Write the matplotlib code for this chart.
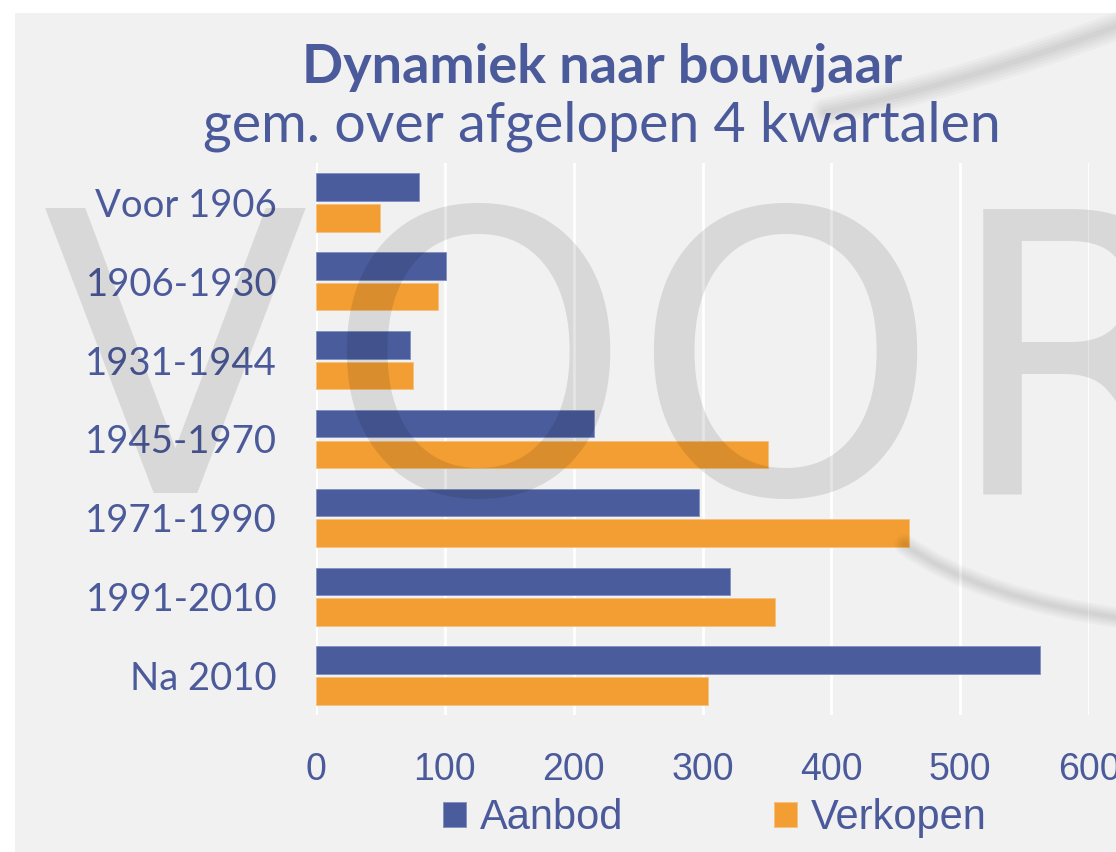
import matplotlib
matplotlib.use("Agg")
import matplotlib.pyplot as plt
import numpy as np
from matplotlib.patches import Rectangle, PathPatch
from matplotlib.path import Path

# data
categories = ["Voor 1906", "1906-1930", "1931-1944", "1945-1970",
              "1971-1990", "1991-2010", "Na 2010"]
aanbod = [80, 101, 73, 216, 297, 321, 562]
verkopen = [50, 95, 75, 351, 460, 356, 304]
x_ticks = [0, 100, 200, 300, 400, 500, 600]
title = "Dynamiek naar bouwjaar"
subtitle = "gem. over afgelopen 4 kwartalen"

BLUE = "#4a5c9c"
ORANGE = "#f29e33"
TEXT = "#4b5a9a"
PANEL = "#f1f1f1"

W, H = 1116, 852
fig = plt.figure(figsize=(W / 100, H / 100), dpi=100)
fig.patch.set_facecolor("white")

# grey panel behind everything
fig.add_artist(Rectangle((15 / W, 0), 1, 1 - 13 / H, transform=fig.transFigure,
                         facecolor=PANEL, edgecolor="none", zorder=-10))

ax = fig.add_axes([316 / W, 1 - 715 / H, 773 / W, (715 - 163) / H])
ax.set_facecolor("none")

y = np.arange(len(categories))
bar_h = 0.35
ax.barh(y - 0.195, aanbod, height=bar_h, color=BLUE, edgecolor="#8090c0",
        linewidth=0.6, zorder=3, label="Aanbod")
ax.barh(y + 0.195, verkopen, height=bar_h, color=ORANGE, edgecolor="#f6c080",
        linewidth=0.6, zorder=3, label="Verkopen")

ax.set_xlim(0, 600)
ax.set_ylim(len(categories) - 0.5, -0.5)
ax.set_xticks(x_ticks)
ax.set_yticks(y)
ax.set_yticklabels(categories)
ax.grid(axis="x", color="white", linewidth=2.0, zorder=1)
ax.axvline(0, color="white", linewidth=2.0, zorder=1)
ax.set_axisbelow(True)
for s in ax.spines.values():
    s.set_visible(False)
ax.tick_params(length=0)
ax.tick_params(axis="y", pad=28, labelsize=27.5, labelcolor=TEXT)
ax.tick_params(axis="x", pad=27, labelsize=27, labelcolor=TEXT)
for lab in ax.get_yticklabels():
    lab.set_family(["Lato", "DejaVu Sans"])
for lab in ax.get_xticklabels():
    lab.set_family(["Liberation Sans Narrow", "Liberation Sans", "DejaVu Sans"])

fig.text(602 / W, 1 - 82 / H, title, ha="center", va="baseline",
         fontsize=39, fontweight="bold", color=TEXT, family=["Lato", "DejaVu Sans"])
fig.text(602 / W, 1 - 142 / H, subtitle, ha="center", va="baseline",
         fontsize=40, color=TEXT, family=["Lato", "DejaVu Sans"])

leg = ax.legend(loc="center", bbox_to_anchor=(715 / W, 1 - 818 / H),
                bbox_transform=fig.transFigure, ncol=2, frameon=False,
                handlelength=0.55, handleheight=0.55, handletextpad=0.35,
                columnspacing=3.6,
                prop={"family": ["Liberation Sans Narrow", "Liberation Sans", "DejaVu Sans"],
                      "size": 30})
for t in leg.get_texts():
    t.set_color(TEXT)

# watermark
wm = dict(color="black", alpha=0.1, fontsize=281, va="baseline",
          family="DejaVu Sans", zorder=20)
base = 1 - 493 / H
fig.text(175 / W, base, "V", ha="center", **wm)
fig.text(478 / W, base, "O", ha="center", **wm)
fig.text(785 / W, base, "O", ha="center", **wm)
fig.text(945 / W, base, "R", ha="left", **wm)

# swoosh
def swoosh(p0, p1, p2, widths):
    verts = [(px / W, 1 - py / H) for px, py in (p0, p1, p2)]
    path = Path(verts, [Path.MOVETO, Path.CURVE3, Path.CURVE3])
    for lw in widths:
        fig.add_artist(PathPatch(path, transform=fig.transFigure, fill=False,
                                 edgecolor="black", alpha=0.025, linewidth=lw,
                                 capstyle="round", zorder=19))

swoosh((825, 112), (960, 85), (1120, 25), [4, 8, 12, 16, 20])
swoosh((905, 545), (980, 598), (1120, 618), [3, 6, 9, 12, 15])

fig.savefig("out.png", dpi=100)
